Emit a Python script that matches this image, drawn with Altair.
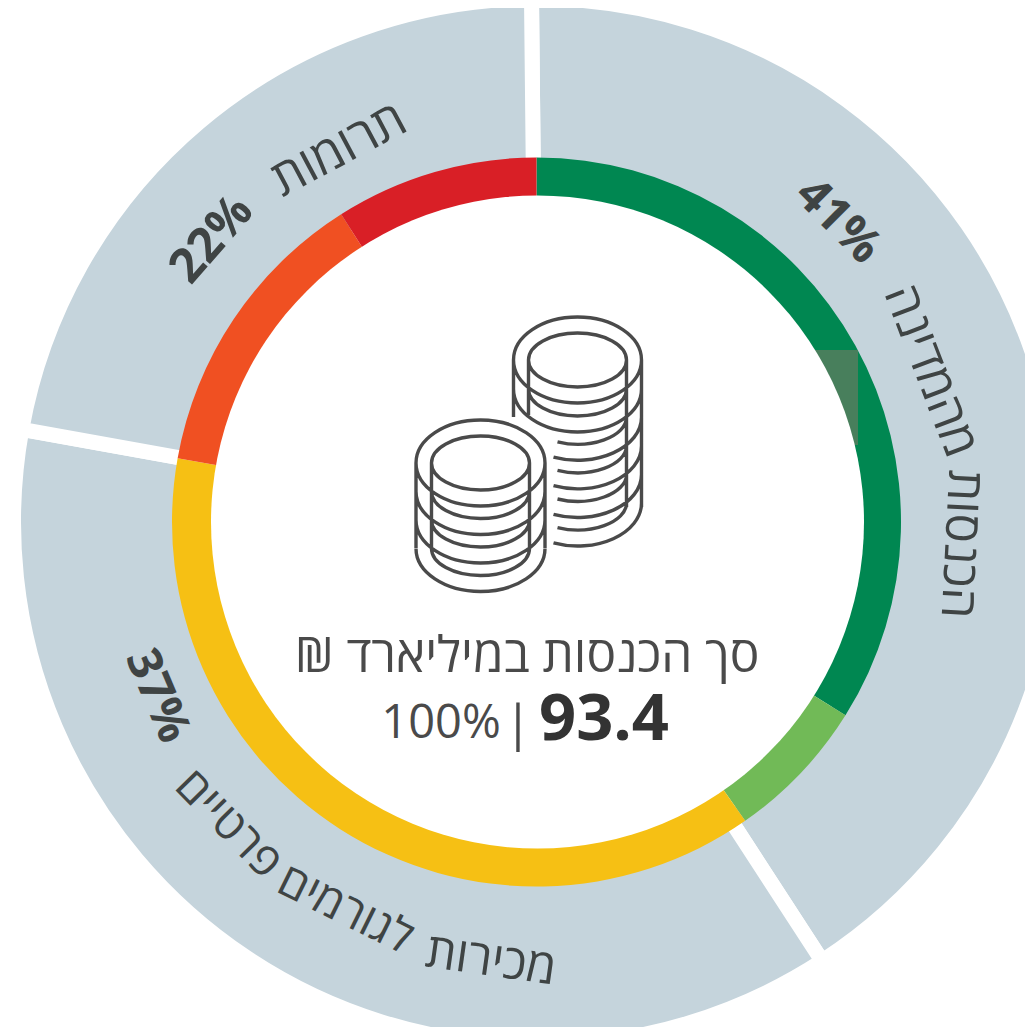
import math
import altair as alt
import pandas as pd

# Values
outer_labels = ["הכנסות מהמדינה", "מכירות לגורמים פרטיים", "תרומות"]
outer_values = [41, 37, 22]
outer_colors = ["#C5D4DC", "#C5D4DC", "#C5D4DC"]
inner_labels = ["a", "b", "c", "d", "e"]
inner_values = [33.9, 6.4, 37.5, 13.2, 9.0]
inner_colors = ["#008751", "#71BA57", "#F6C014", "#F05022", "#D91F26"]

# Curved captions: word, bearing (deg clockwise from north), distance from centre, rotation
word_text = ["41%", "מהמדינה", "הכנסות", "37%", "פרטיים", "לגורמים", "מכירות", "22%", "תרומות"]
word_theta = [45, 69, 93, 245.4, 225.6, 206.3, 186, 311, 332]
word_radius = [425, 421, 424, 418, 432, 433, 442, 430, 421]
word_angle = [45, 69, 93, 67, 45.6, 26.3, 8, 311, 332]
word_weight = ["bold", "normal", "normal", "bold", "normal", "normal", "normal", "bold", "normal"]
word_size = [48, 49, 49, 47, 46, 46, 48, 48, 50]

FONT = "Open Sans"
TEXT = "#3f4444"
W, H = 1017, 1019
CX, CY = 529, 514


def half_arc(cx, cy, rx, ry, x0=None):
    """Lower half of a coin's edge, optionally starting at x0, relative to icon centre."""
    if x0 is None:
        sx, sy = cx - rx, cy
    else:
        sx = x0
        sy = cy + ry * math.sqrt(1 - ((x0 - cx) / rx) ** 2)
    return f"M{sx:.1f} {sy:.1f}A{rx} {ry} 0 0 0 {cx + rx} {cy}"


def ellipse(cx, cy, rx, ry):
    return f"M{cx-rx} {cy}A{rx} {ry} 0 1 0 {cx+rx} {cy}A{rx} {ry} 0 1 0 {cx-rx} {cy}"


def coins():
    p = []
    # back stack (page position relative to 537,522)
    cx, cy = 40.5, -162
    p += [ellipse(cx, cy, 64, 43), ellipse(cx, cy, 49, 27)]
    p.append(f"M{cx-64} {cy}V{cy+57}M{cx-49} {cy}V{cy+55}M{cx+64} {cy}V{cy+147}M{cx+49} {cy}V{cy+147}")
    p.append(half_arc(cx, cy + 29, 64, 43))
    p.append(half_arc(cx, cy + 29, 49, 27))
    for k in range(2, 6):
        p.append(half_arc(cx, cy + 28.6 * k, 64, 43, x0=cx - 24))
        p.append(half_arc(cx, cy + 28.6 * k, 49, 27, x0=cx - 20))
    # front stack
    cx, cy = -56.5, -59
    p += [ellipse(cx, cy, 64.5, 43), ellipse(cx, cy, 49, 27)]
    p.append(f"M{cx-64.5} {cy}V{cy+85}M{cx-49} {cy}V{cy+85}M{cx+64.5} {cy}V{cy+85}M{cx+49} {cy}V{cy+85}")
    for k in range(1, 4):
        p.append(half_arc(cx, cy + 28.5 * k, 64.5, 43))
        p.append(half_arc(cx, cy + 28.5 * k, 49, 27))
    return "".join(p)


outer_df = pd.DataFrame({"label": outer_labels, "value": outer_values, "i": range(3)})
inner_df = pd.DataFrame({"label": inner_labels, "value": inner_values, "i": range(5)})
word_df = pd.DataFrame({"t": word_text, "th": word_theta, "r": word_radius, "a": word_angle,
                        "w": word_weight, "s": word_size})

pos = dict(x=alt.value(CX), y=alt.value(CY))
offset = -0.0105

outer = alt.Chart(outer_df).mark_arc(
    radius=523.5, radius2=340, stroke="white", strokeWidth=15
).encode(
    theta=alt.Theta("value:Q", stack=True, scale=alt.Scale(domain=[0, 100], range=[offset, offset + 2 * math.pi])),
    color=alt.Color("label:N", legend=None, scale=alt.Scale(domain=outer_labels, range=outer_colors)),
    order=alt.Order("i:Q"),
    **pos,
)

inner = alt.Chart(inner_df).mark_arc(radius=364.5, radius2=320).encode(
    theta=alt.Theta("value:Q", stack=True, scale=alt.Scale(domain=[0, 100], range=[0, 2 * math.pi])),
    color=alt.Color("label:N", legend=None, scale=alt.Scale(domain=inner_labels, range=inner_colors)),
    order=alt.Order("i:Q"),
    x=alt.value(CX - 0.5),
    y=alt.value(CY),
)

patch = alt.Chart(pd.DataFrame({"k": [0]})).mark_rect(color="#487F5C").encode(
    x=alt.value(807), x2=alt.value(850), y=alt.value(342), y2=alt.value(437)
)

disc = alt.Chart(pd.DataFrame({"k": [0]})).mark_arc(
    radius=326.5, radius2=0, theta=0, theta2=2 * math.pi, color="white"
).encode(x=alt.value(CX + 0.5), y=alt.value(CY))

words = []
for weight in ["bold", "normal"]:
    words.append(
        alt.Chart(word_df[word_df.w == weight]).mark_text(
            font=FONT, fontWeight=weight, color=TEXT, align="center", baseline="middle"
        ).encode(
            theta=alt.Theta("th:Q", scale=alt.Scale(domain=[0, 360], range=[0, 2 * math.pi])),
            radius=alt.Radius("r:Q", scale=alt.Scale(type="linear", domain=[0, 600], range=[0, 600])),
            angle=alt.Angle("a:Q", scale=None),
            size=alt.Size("s:Q", scale=None),
            text="t:N",
            **pos,
        )
    )

icon = alt.Chart(pd.DataFrame({"k": [0]})).mark_point(
    shape=coins(), size=4, filled=False, stroke="#4a4a4a", strokeWidth=3.4, opacity=1
).encode(**pos)


def label(s, x, y, size, weight="normal", color="#4a4a4a"):
    return alt.Chart(pd.DataFrame({"t": [s]})).mark_text(
        font=FONT, fontSize=size, fontWeight=weight, color=color, align="center", baseline="alphabetic"
    ).encode(text="t:N", x=alt.value(x - 8), y=alt.value(y - 8))


center_title = label("סך הכנסות במיליארד ₪\u200f", 527, 672, 49.5)
center_value = label("93.4", 604, 740, 65, "bold", "#333333")
center_sep = label("|", 518, 740, 50)
center_pct = label("100%", 441, 738, 47)

chart = alt.layer(
    outer, inner, patch, disc, *words, icon, center_title, center_value, center_sep, center_pct
).resolve_scale(theta="independent", radius="independent", color="independent").properties(
    width=W, height=H, padding=0, autosize=alt.AutoSizeParams(type="none")
).configure_view(stroke=None)

chart.save("out.html", embed_options={"renderer": "svg", "actions": False})
